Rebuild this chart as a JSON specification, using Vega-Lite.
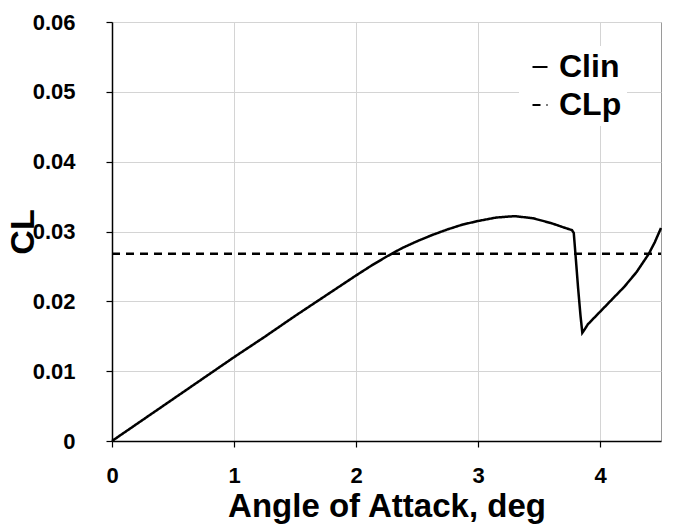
{
  "$schema": "https://vega.github.io/schema/vega-lite/v6.json",
  "width": 549,
  "height": 419,
  "autosize": {"type": "none"},
  "padding": {"left": 112, "top": 22, "right": 16, "bottom": 86},
  "background": "white",
  "config": {
    "font": "Liberation Sans",
    "view": {"stroke": "#9a9a9a", "strokeWidth": 1},
    "axis": {
      "labelFont": "Liberation Sans",
      "labelFontWeight": "bold",
      "labelFontSize": 22,
      "labelColor": "black",
      "titleFont": "Liberation Sans",
      "titleFontWeight": "bold",
      "titleColor": "black",
      "domainColor": "black",
      "domainWidth": 1.5,
      "tickColor": "black",
      "tickSize": 6,
      "tickWidth": 1.2,
      "gridColor": "#d4d4d4",
      "gridWidth": 1,
      "labelFlush": false,
      "labelOverlap": false
    }
  },
  "data": {
    "values": [
      {"a": 0, "CL": 0, "series": "Clin"},
      {"a": 0.5, "CL": 0.006, "series": "Clin"},
      {"a": 1.0, "CL": 0.012, "series": "Clin"},
      {"a": 1.25, "CL": 0.0149, "series": "Clin"},
      {"a": 1.5, "CL": 0.0179, "series": "Clin"},
      {"a": 1.75, "CL": 0.0208, "series": "Clin"},
      {"a": 2.0, "CL": 0.0237, "series": "Clin"},
      {"a": 2.125, "CL": 0.0251, "series": "Clin"},
      {"a": 2.25, "CL": 0.0264, "series": "Clin"},
      {"a": 2.375, "CL": 0.0276, "series": "Clin"},
      {"a": 2.5, "CL": 0.0286, "series": "Clin"},
      {"a": 2.625, "CL": 0.0295, "series": "Clin"},
      {"a": 2.75, "CL": 0.0303, "series": "Clin"},
      {"a": 2.875, "CL": 0.031, "series": "Clin"},
      {"a": 3.0, "CL": 0.0315, "series": "Clin"},
      {"a": 3.15, "CL": 0.032, "series": "Clin"},
      {"a": 3.3, "CL": 0.0322, "series": "Clin"},
      {"a": 3.45, "CL": 0.0319, "series": "Clin"},
      {"a": 3.6, "CL": 0.0312, "series": "Clin"},
      {"a": 3.7, "CL": 0.0306, "series": "Clin"},
      {"a": 3.77, "CL": 0.0302, "series": "Clin"},
      {"a": 3.785, "CL": 0.0298, "series": "Clin"},
      {"a": 3.8, "CL": 0.0265, "series": "Clin"},
      {"a": 3.82, "CL": 0.022, "series": "Clin"},
      {"a": 3.84, "CL": 0.018, "series": "Clin"},
      {"a": 3.855, "CL": 0.0155, "series": "Clin"},
      {"a": 3.875, "CL": 0.016, "series": "Clin"},
      {"a": 3.9, "CL": 0.0167, "series": "Clin"},
      {"a": 4.0, "CL": 0.0185, "series": "Clin"},
      {"a": 4.1, "CL": 0.0203, "series": "Clin"},
      {"a": 4.2, "CL": 0.0221, "series": "Clin"},
      {"a": 4.3, "CL": 0.0242, "series": "Clin"},
      {"a": 4.4, "CL": 0.0268, "series": "Clin"},
      {"a": 4.45, "CL": 0.0285, "series": "Clin"},
      {"a": 4.5, "CL": 0.0305, "series": "Clin"},
      {"a": 0, "CL": 0.0268, "series": "CLp"},
      {"a": 4.5, "CL": 0.0268, "series": "CLp"}
    ]
  },
  "mark": {"type": "line", "strokeWidth": 2.5, "color": "black"},
  "encoding": {
    "x": {
      "field": "a",
      "type": "quantitative",
      "scale": {"domain": [0, 4.5], "nice": false},
      "axis": {
        "values": [0, 1, 2, 3, 4],
        "format": "d",
        "title": "Angle of Attack, deg",
        "titleFontSize": 33,
        "labelPadding": 18,
        "titlePadding": 4
      }
    },
    "y": {
      "field": "CL",
      "type": "quantitative",
      "scale": {"domain": [0, 0.06], "nice": false},
      "axis": {
        "values": [0, 0.01, 0.02, 0.03, 0.04, 0.05, 0.06],
        "format": ".2~f",
        "title": "CL",
        "titleFontSize": 34,
        "labelPadding": 31,
        "titlePadding": -8
      }
    },
    "strokeDash": {
      "field": "series",
      "type": "nominal",
      "scale": {"domain": ["Clin", "CLp"], "range": [[1, 0], [8, 6]]},
      "legend": {
        "title": null,
        "orient": "none",
        "legendX": 407,
        "legendY": 24,
        "symbolType": "stroke",
        "symbolSize": 225,
        "symbolStrokeWidth": 2,
        "symbolStrokeColor": "black",
        "labelFont": "Liberation Sans",
        "labelFontSize": 32,
        "labelFontWeight": "bold",
        "labelColor": "black",
        "labelOffset": 3,
        "fillColor": "white",
        "padding": 5,
        "rowPadding": 6
      }
    }
  }
}
